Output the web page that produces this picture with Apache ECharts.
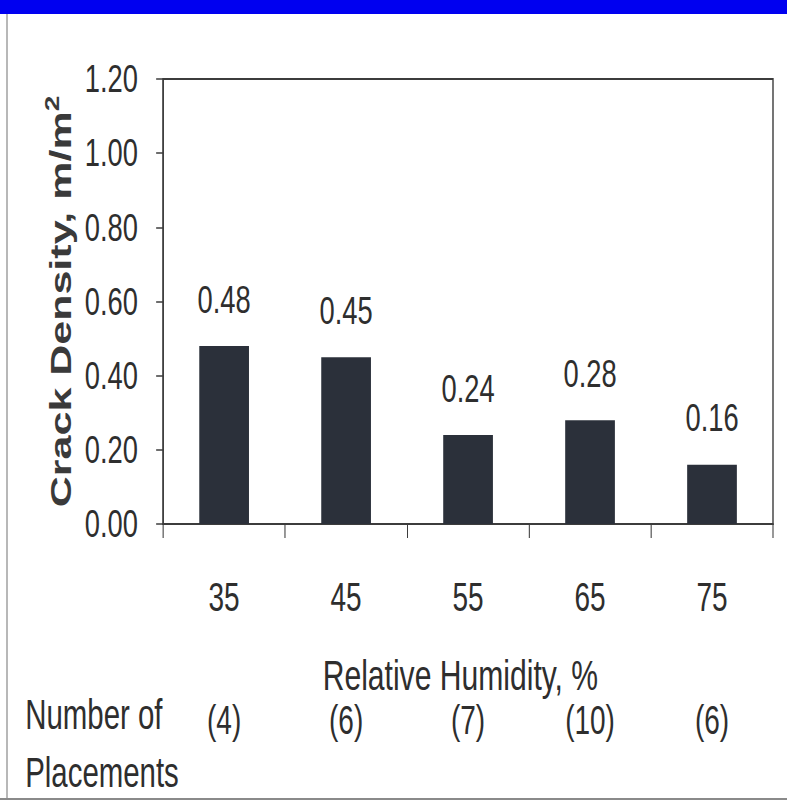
<!DOCTYPE html>
<html>
<head>
<meta charset="utf-8">
<script src="https://cdn.jsdelivr.net/npm/echarts@6/dist/echarts.min.js"></script>
<style>
  html, body { margin: 0; padding: 0; width: 787px; height: 804px; overflow: hidden; background: #ffffff; }
  #c { width: 1124px; height: 804px; transform: scaleX(0.70018); transform-origin: 0 0; }
</style>
</head>
<body>
<div id="c"></div>
<script>
// ---- data ----
const categories = ['35', '45', '55', '65', '75'];
const crackDensity = [0.48, 0.45, 0.24, 0.28, 0.16];
const placements = ['(4)', '(6)', '(7)', '(10)', '(6)'];
const yMin = 0, yMax = 1.2, yStep = 0.2;
const yAxisTitle = 'Crack Density, m/m';
const yAxisTitleSup = '2';
const xAxisTitle = 'Relative Humidity, %';
const rowTitle = ['Number of', 'Placements'];

// ---- chart ----
const W = 1124;
const FONT = '"Liberation Sans", Arial, sans-serif';
const TXT = '#2e2e2e';
const AX = '#3c3c3c';
const chart = echarts.init(document.getElementById('c'), null, { renderer: 'svg' });

chart.setOption({
  backgroundColor: '#ffffff',
  animation: false,
  grid: { left: 233, right: 20, top: 79, bottom: 280, show: true, borderColor: AX, borderWidth: 2, backgroundColor: 'transparent' },
  xAxis: [
    {
      type: 'category',
      data: categories,
      position: 'bottom',
      axisLine: { show: true, lineStyle: { color: AX, width: 2 } },
      axisTick: { show: true, inside: false, length: 14, lineStyle: { color: AX, width: 1.5 } },
      axisLabel: { margin: 53, fontFamily: FONT, fontSize: 40, color: TXT },
      splitLine: { show: false },
      name: xAxisTitle,
      nameLocation: 'middle',
      nameGap: 129,
      nameTextStyle: { fontFamily: FONT, fontSize: 43, color: TXT, padding: [0, 22, 0, 0] }
    },
    {
      type: 'category',
      data: placements,
      position: 'bottom',
      axisLine: { show: false },
      axisTick: { show: false },
      axisLabel: { margin: 176, fontFamily: FONT, fontSize: 40, color: TXT },
      splitLine: { show: false }
    }
  ],
  yAxis: {
    type: 'value',
    min: yMin, max: yMax, interval: yStep,
    axisLine: { show: true, lineStyle: { color: AX, width: 2 } },
    axisTick: { show: true, inside: false, length: 10, lineStyle: { color: AX, width: 1.5 } },
    axisLabel: { margin: 36, fontFamily: FONT, fontSize: 39, color: TXT, formatter: v => v.toFixed(2) },
    splitLine: { show: false },
    name: '{t|' + yAxisTitle + '}{s|' + yAxisTitleSup + '}',
    nameLocation: 'middle',
    nameGap: 122,
    nameTextStyle: {
      fontFamily: FONT, fontSize: 43, fontWeight: 'bold', color: '#3a3a3a',
      rich: {
        t: { fontFamily: FONT, fontSize: 43, fontWeight: 'bold', color: '#3a3a3a', lineHeight: 50 },
        s: { fontFamily: FONT, fontSize: 28, fontWeight: 'bold', color: '#3a3a3a', verticalAlign: 'top', lineHeight: 28 }
      }
    }
  },
  series: [{
    type: 'bar',
    xAxisIndex: 0,
    data: crackDensity,
    barWidth: 71,
    itemStyle: { color: '#2b303a' },
    label: {
      show: true, position: 'top', distance: 27,
      fontFamily: FONT, fontSize: 39, color: TXT,
      formatter: p => p.value.toFixed(2)
    }
  }],
  graphic: [
    { type: 'rect', left: 0, top: 0, shape: { width: W, height: 14 }, style: { fill: '#0000f0' }, silent: true },
    { type: 'line', shape: { x1: 10, y1: 14, x2: 10, y2: 800 }, style: { stroke: '#9a9a9a', lineWidth: 2 }, silent: true },
    { type: 'line', shape: { x1: 0, y1: 799, x2: W, y2: 799 }, style: { stroke: '#8a8a8a', lineWidth: 2 }, silent: true },
    { type: 'text', style: { text: rowTitle[0], x: 36, y: 715, font: '42px ' + FONT, fill: TXT, textAlign: 'left', textVerticalAlign: 'middle' }, silent: true },
    { type: 'text', style: { text: rowTitle[1], x: 36, y: 773, font: '42px ' + FONT, fill: TXT, textAlign: 'left', textVerticalAlign: 'middle' }, silent: true }
  ]
});
</script>
</body>
</html>
